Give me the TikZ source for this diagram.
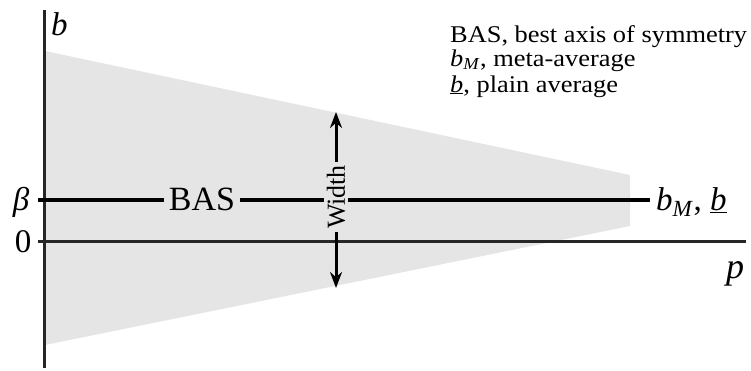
\documentclass[tikz,border=0pt]{standalone}
\usepackage{fontspec}
\setmainfont{Liberation Serif}
\newfontfamily\legendfont[FakeStretch=1.1]{Liberation Serif}
\usetikzlibrary{arrows.meta}
\definecolor{wedge}{RGB}{229,229,229}
\begin{document}
\begin{tikzpicture}[x=1pt,y=-1pt,
  axis/.style={line width=3pt,black!85},
  baslinestyle/.style={line width=3.6pt,black},
  warrow/.style={line width=3pt,-{Stealth[length=16pt,width=12pt]}},
  bigtxt/.style={font=\fontsize{33}{36}\selectfont,inner sep=0pt},
  legend/.style={font=\legendfont\fontsize{24}{28}\selectfont,inner sep=0pt,anchor=base west}]
\useasboundingbox (0,0) rectangle (751,370);
% wedge
\fill[wedge] (45,51) -- (630,175) -- (630,226) -- (45,345) -- cycle;
% axes
\coordinate (vtop) at (44,10);
\coordinate (vbot) at (44,368);
\coordinate (hl) at (38,241);
\coordinate (hr) at (746,241);
\draw[axis] (vtop) -- (vbot);
\draw[axis] (hl) -- (hr);
% BAS line
\coordinate (bl) at (38,200);
\coordinate (br) at (650,200);
\node[font=\fontsize{34}{38}\selectfont,inner sep=5pt] (bas) at (202,199) {BAS};
\node[font=\fontsize{26}{30}\selectfont,rotate=90,inner sep=3pt] (wd) at (336,197) {Width};
\draw[baslinestyle] (bl) -- (bas.west |- bl);
\draw[baslinestyle] (bas.east |- bl) -- (bl -| wd.north);
\draw[baslinestyle] (bl -| wd.south) -- (br);
% width arrows
\coordinate (wtop) at (336,112);
\coordinate (wbot) at (336,288);
\draw[warrow] (wd.east) -- (wtop);
\draw[warrow] (wd.west) -- (wbot);
% axis labels
\node[bigtxt,anchor=base west] (lb) at (51,35) {\textit{b}};
\node[bigtxt,anchor=base] (lbeta) at (21,210) {\textit{β}};
\node[bigtxt,anchor=base] (lzero) at (23,252) {0};
\node[font=\fontsize{36}{40}\selectfont,inner sep=0pt,anchor=base] (lp) at (735,278) {\textit{p}};
\node[font=\fontsize{33}{36}\selectfont,inner sep=0pt,anchor=base west] (lbm) at (656,210) {\textit{b}\textsubscript{\textit{M}}, \underline{\textit{b}}};
% legend
\node[legend] (l1) at (450,42) {BAS, best axis of symmetry};
\node[legend] (l2) at (450,66) {\textit{b}\textsubscript{\textit{M}}, meta-average};
\node[legend] (l3) at (450,92) {\underline{\textit{b}}, plain average};
\end{tikzpicture}
\end{document}
